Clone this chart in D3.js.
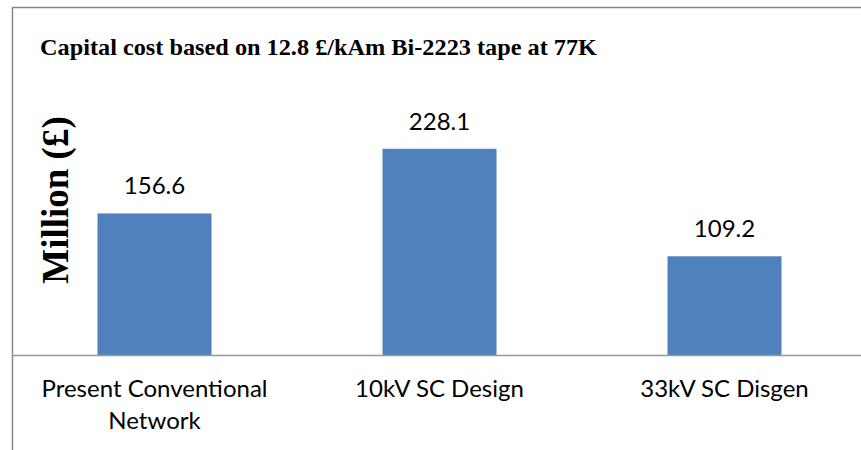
<!DOCTYPE html>
<html><head><meta charset="utf-8">
<script src="https://cdn.jsdelivr.net/npm/d3@7"></script>
<style>body{margin:0;background:#fff}svg{display:block}</style>
</head><body>
<svg id="c" width="861" height="450"></svg>
<script>
const categories = [["Present Conventional","Network"],["10kV SC Design"],["33kV SC Disgen"]];
const values = [156.6, 228.1, 109.2];
const labels = ["156.6","228.1","109.2"];
const title = "Capital cost based on 12.8 £/kAm Bi-2223 tape at 77K";
const yTitle = "Million (£)";

const svg = d3.select("#c");
const x = d3.scaleBand().domain(d3.range(values.length)).range([12, 867]).paddingInner(0.6).paddingOuter(0.3);
const y = d3.scaleLinear().domain([0, 250]).range([355, 129]);

// frame
svg.append("path").attr("d","M12.5,450 V7.5 H861").attr("fill","none").attr("stroke","#888").attr("stroke-width",1.5);

svg.append("text").attr("x",40).attr("y",55).attr("font-family","Liberation Serif").attr("font-weight","bold")
  .attr("font-size",24).attr("fill","#000").attr("textLength",557).attr("lengthAdjust","spacingAndGlyphs").text(title);

svg.append("text").attr("transform","translate(68,200) rotate(-90)").attr("text-anchor","middle")
  .attr("font-family","Liberation Serif").attr("font-weight","bold").attr("font-size",37).attr("fill","#000").text(yTitle);

svg.selectAll("rect.bar").data(values).join("rect").attr("class","bar")
  .attr("x",(d,i)=>x(i)).attr("width",x.bandwidth()).attr("y",d=>y(d)).attr("height",d=>y(0)-y(d)).attr("fill","#4F81BD");

svg.selectAll("text.val").data(values).join("text").attr("class","val")
  .attr("x",(d,i)=>x(i)+x.bandwidth()/2).attr("y",d=>y(d)-19).attr("text-anchor","middle")
  .attr("font-family","Lato, Carlito, sans-serif").attr("font-size",24).attr("fill","#000").text((d,i)=>labels[i]);

const xAxis = svg.append("g").attr("transform",`translate(0,${y(0)})`)
  .call(d3.axisBottom(x).tickSize(0).tickFormat(""));
xAxis.select(".domain").attr("d","M12,0.5H861").attr("stroke","#999").attr("stroke-width",1.5);

const cat = svg.selectAll("text.cat").data(categories).join("text").attr("class","cat")
  .attr("text-anchor","middle").attr("font-family","Lato, Carlito, sans-serif").attr("font-size",24).attr("fill","#000");
cat.selectAll("tspan").data((d,i)=>d.map(t=>({t,i}))).join("tspan")
  .attr("x",d=>x(d.i)+x.bandwidth()/2).attr("y",(d,j)=>397+j*32).text(d=>d.t);
</script>
</body></html>
